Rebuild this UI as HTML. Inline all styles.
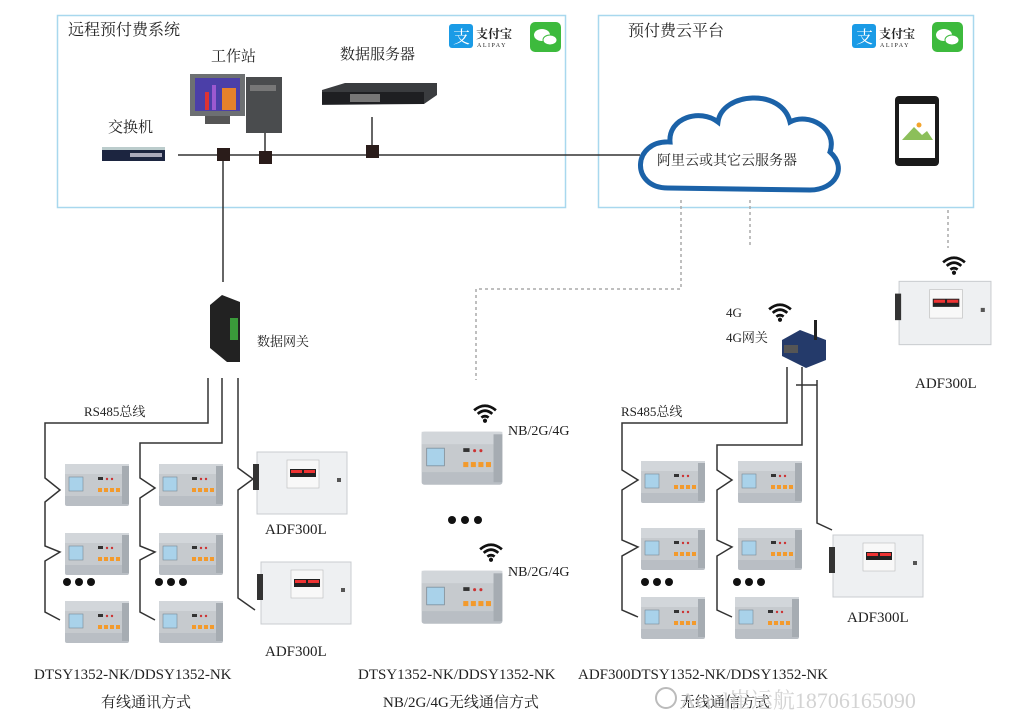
<!DOCTYPE html>
<html><head><meta charset="utf-8"><style>
html,body{margin:0;padding:0;background:#fff;}
svg{display:block;}
text{font-family:"Liberation Serif","Noto Serif CJK SC",serif;fill:#222;}
</style></head><body>
<svg width="1024" height="723" viewBox="0 0 1024 723" xmlns="http://www.w3.org/2000/svg">
<defs>
<symbol id="meter" viewBox="0 0 66 46">
<rect x="1" y="3" width="64" height="42" rx="2" fill="#b9bec4"/>
<rect x="1" y="3" width="64" height="10" fill="#d2d6da"/>
<rect x="1" y="13" width="64" height="22" fill="#c6cace"/>
<rect x="5" y="16" width="14" height="14" fill="#a9d2ea" stroke="#7a8a96" stroke-width="0.6"/>
<rect x="34" y="16" width="5" height="3" fill="#333"/>
<circle cx="43" cy="18" r="1.2" fill="#c33"/><circle cx="48" cy="18" r="1.2" fill="#c33"/>
<rect x="34" y="27" width="4" height="4" fill="#f39a2c"/><rect x="40" y="27" width="4" height="4" fill="#f39a2c"/><rect x="46" y="27" width="4" height="4" fill="#f39a2c"/><rect x="52" y="27" width="4" height="4" fill="#f39a2c"/>
<rect x="58" y="5" width="7" height="38" fill="#a6acb2"/>
</symbol>
<symbol id="adf" viewBox="0 0 96 66">
<rect x="4" y="2" width="90" height="62" fill="#eef0f2" stroke="#c9ccd0"/>
<rect x="0" y="14" width="6" height="26" fill="#333"/>
<rect x="34" y="10" width="32" height="28" fill="#f8f8f8" stroke="#bbb" stroke-width="0.6"/>
<rect x="37" y="19" width="26" height="8" fill="#222"/>
<rect x="38" y="20" width="11" height="3" fill="#e33"/><rect x="51" y="20" width="11" height="3" fill="#e33"/>
<rect x="84" y="28" width="4" height="4" fill="#555"/>
</symbol>
<symbol id="wifi" viewBox="0 0 28 22">
<path d="M2 8 Q14 -2 26 8" stroke="#111" stroke-width="3" fill="none"/>
<path d="M6 12 Q14 5 22 12" stroke="#111" stroke-width="3" fill="none"/>
<path d="M10 16 Q14 13 18 16" stroke="#111" stroke-width="3" fill="none"/>
<circle cx="14" cy="19.5" r="2.3" fill="#111"/>
</symbol>
</defs>

<rect x="57.5" y="15.5" width="508" height="192" fill="none" stroke="#a8d8ee" stroke-width="1.5"/>
<rect x="598.5" y="15.5" width="375" height="192" fill="none" stroke="#a8d8ee" stroke-width="1.5"/>
<text x="68" y="35" font-size="16">远程预付费系统</text>
<text x="628" y="36" font-size="16">预付费云平台</text>

<g transform="translate(449,24)"><rect width="24" height="24" rx="3" fill="#1a9be6"/><text x="4" y="19" font-size="17" style="fill:#fff">支</text><text x="27" y="14" font-size="12" font-weight="bold">支付宝</text><text x="28" y="23" font-size="6" letter-spacing="1.5">ALIPAY</text></g>
<rect x="530" y="22" width="31" height="30" rx="5" fill="#3dba3d"/><ellipse cx="542" cy="35" rx="8" ry="6" fill="#fff"/><ellipse cx="550" cy="40" rx="7" ry="5" fill="#fff" stroke="#3dba3d"/>
<g transform="translate(852,24)"><rect width="24" height="24" rx="3" fill="#1a9be6"/><text x="4" y="19" font-size="17" style="fill:#fff">支</text><text x="27" y="14" font-size="12" font-weight="bold">支付宝</text><text x="28" y="23" font-size="6" letter-spacing="1.5">ALIPAY</text></g>
<rect x="932" y="22" width="31" height="30" rx="5" fill="#3dba3d"/><ellipse cx="944" cy="35" rx="8" ry="6" fill="#fff"/><ellipse cx="952" cy="40" rx="7" ry="5" fill="#fff" stroke="#3dba3d"/>

<text x="108" y="132" font-size="15">交换机</text>
<rect x="102" y="147" width="63" height="14" fill="#1c2540"/><rect x="102" y="147" width="63" height="3" fill="#bcc"/><rect x="130" y="153" width="32" height="4" fill="#aab"/>
<text x="211" y="61" font-size="15">工作站</text>
<rect x="190" y="74" width="55" height="42" fill="#6d7072"/><rect x="195" y="78" width="45" height="33" fill="#4b3fa8"/>
<rect x="222" y="88" width="14" height="22" fill="#e6812b"/><rect x="205" y="92" width="4" height="18" fill="#d33"/><rect x="212" y="85" width="4" height="25" fill="#9b59d0"/>
<rect x="205" y="116" width="25" height="8" fill="#555"/>
<rect x="246" y="77" width="36" height="56" fill="#4a4c4e"/><rect x="250" y="85" width="26" height="6" fill="#777"/>
<text x="340" y="59" font-size="15">数据服务器</text>
<path d="M322 90 L345 83 L437 83 L437 95 L424 104 L322 105 Z" fill="#3a3c3f"/><rect x="322" y="92" width="102" height="12" fill="#1e1f22"/><rect x="350" y="94" width="30" height="8" fill="#777"/>

<line x1="178" y1="155" x2="640" y2="155" stroke="#333" stroke-width="1.5"/>
<line x1="265" y1="133" x2="265" y2="155" stroke="#333" stroke-width="1.5"/>
<line x1="372" y1="117" x2="372" y2="152" stroke="#333" stroke-width="1.5"/>
<rect x="217" y="148" width="13" height="13" fill="#2a1c1a"/>
<rect x="259" y="151" width="13" height="13" fill="#2a1c1a"/>
<rect x="366" y="145" width="13" height="13" fill="#2a1c1a"/>
<line x1="223" y1="161" x2="223" y2="282" stroke="#333" stroke-width="1.5"/>

<path d="M668 188 C630 188 632 140 670 142 C668 118 700 108 718 122 C722 92 782 88 790 122 C808 112 838 128 830 152 C848 168 835 190 810 190 Z" fill="#fff" stroke="#1b62a8" stroke-width="5"/>
<text x="657" y="165" font-size="14">阿里云或其它云服务器</text>

<rect x="895" y="96" width="44" height="70" rx="4" fill="#1a1a1a"/><rect x="899" y="104" width="36" height="54" fill="#fff"/>
<path d="M902 140 L914 127 L922 135 L927 131 L933 140 Z" fill="#8cbf5a"/><circle cx="919" cy="125" r="2.5" fill="#f4a42c"/>

<g stroke="#aaa" stroke-width="1.5" stroke-dasharray="3,3" fill="none">
<path d="M681 200 V289 H476 V380"/>
<path d="M750 200 V248"/>
<path d="M948 210 V248"/>
</g>

<path d="M210 305 L222 295 L240 302 L240 362 L227 362 L210 348 Z" fill="#222"/><rect x="230" y="318" width="8" height="22" fill="#3a9a3a"/>
<text x="257" y="346" font-size="13">数据网关</text>

<g stroke="#333" stroke-width="1.5" fill="none">
<path d="M208 378 V423 H45 V478 L60 490 L45 502 V546 L60 552 L45 561 V612 L60 620"/>
<path d="M222 378 V443 H140 V478 L155 488 L140 498 V546 L155 552 L140 560 V612 L155 620"/>
<path d="M238 378 V468 L253 479 L238 490 V598 L255 610"/>
</g>
<text x="84" y="416" font-size="13">RS485总线</text>
<use href="#meter" x="64" y="461" width="66" height="46"/>
<use href="#meter" x="64" y="530" width="66" height="46"/>
<use href="#meter" x="64" y="598" width="66" height="46"/>
<use href="#meter" x="158" y="461" width="66" height="46"/>
<use href="#meter" x="158" y="530" width="66" height="46"/>
<use href="#meter" x="158" y="598" width="66" height="46"/>
<g fill="#111"><circle cx="67" cy="582" r="4"/><circle cx="79" cy="582" r="4"/><circle cx="91" cy="582" r="4"/><circle cx="159" cy="582" r="4"/><circle cx="171" cy="582" r="4"/><circle cx="183" cy="582" r="4"/></g>
<use href="#adf" x="252" y="450" width="98" height="66"/>
<use href="#adf" x="256" y="560" width="98" height="66"/>
<text x="265" y="534" font-size="15">ADF300L</text>
<text x="265" y="656" font-size="15">ADF300L</text>
<text x="34" y="679" font-size="15">DTSY1352-NK/DDSY1352-NK</text>
<text x="101" y="707" font-size="15">有线通讯方式</text>

<use href="#wifi" x="472" y="403" width="26" height="20"/>
<use href="#wifi" x="478" y="542" width="26" height="20"/>
<text x="508" y="435" font-size="14">NB/2G/4G</text>
<text x="508" y="576" font-size="14">NB/2G/4G</text>
<use href="#meter" x="420" y="428" width="84" height="58"/>
<use href="#meter" x="420" y="567" width="84" height="58"/>
<g fill="#111"><circle cx="452" cy="520" r="4"/><circle cx="465" cy="520" r="4"/><circle cx="478" cy="520" r="4"/></g>
<text x="358" y="679" font-size="15">DTSY1352-NK/DDSY1352-NK</text>
<text x="383" y="707" font-size="15">NB/2G/4G无线通信方式</text>

<use href="#wifi" x="767" y="302" width="26" height="20"/>
<use href="#wifi" x="941" y="255" width="26" height="20"/>
<text x="726" y="317" font-size="13">4G</text>
<text x="726" y="342" font-size="13">4G网关</text>
<path d="M782 340 L800 330 L826 340 L826 360 L806 368 L782 356 Z" fill="#243a6a"/><rect x="814" y="320" width="3" height="20" fill="#222"/><rect x="784" y="345" width="14" height="8" fill="#555"/>
<use href="#adf" x="895" y="278" width="98" height="70"/>
<text x="915" y="388" font-size="15">ADF300L</text>
<g stroke="#333" stroke-width="1.5" fill="none">
<path d="M787 367 V423 H622 V470 L638 480 L622 490 V540 L638 547 L622 556 V610 L638 617"/>
<path d="M802 367 V445 H717 V470 L732 480 L717 490 V540 L732 547 L717 556 V610 L732 617"/>
<path d="M817 380 V523 L832 530"/>
<path d="M796 385 H817"/>
</g>
<text x="621" y="416" font-size="13">RS485总线</text>
<use href="#meter" x="640" y="458" width="66" height="46"/>
<use href="#meter" x="640" y="525" width="66" height="46"/>
<use href="#meter" x="640" y="594" width="66" height="46"/>
<use href="#meter" x="737" y="458" width="66" height="46"/>
<use href="#meter" x="737" y="525" width="66" height="46"/>
<use href="#meter" x="734" y="594" width="66" height="46"/>
<g fill="#111"><circle cx="645" cy="582" r="4"/><circle cx="657" cy="582" r="4"/><circle cx="669" cy="582" r="4"/><circle cx="737" cy="582" r="4"/><circle cx="749" cy="582" r="4"/><circle cx="761" cy="582" r="4"/></g>
<use href="#adf" x="828" y="533" width="98" height="66"/>
<text x="847" y="622" font-size="15">ADF300L</text>
<text x="578" y="679" font-size="15">ADF300DTSY1352-NK/DDSY1352-NK</text>
<text x="680" y="707" font-size="15">无线通信方式</text>
<text x="680" y="708" font-size="22" font-family="Liberation Sans, Noto Sans CJK SC, sans-serif" style="fill:#ccc;opacity:0.85">Acrel崔运航18706165090</text>
<circle cx="666" cy="698" r="10" fill="none" stroke="#bbb" stroke-width="2"/>
</svg>
</body></html>
